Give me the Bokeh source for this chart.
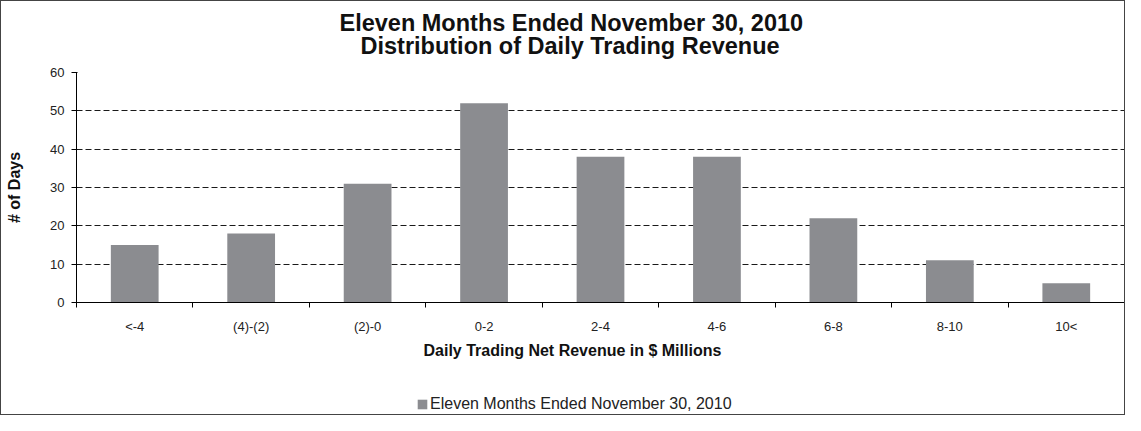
from bokeh.plotting import figure
from bokeh.layouts import column
from bokeh.models import (ColumnDataSource, FixedTicker, Title, Legend, LegendItem,
                          Range1d)
from bokeh.embed import file_html
from bokeh.resources import INLINE

# ---- data ----
categories = ["<-4", "(4)-(2)", "(2)-0", "0-2", "2-4", "4-6", "6-8", "8-10", "10<"]
days = [15, 18, 31, 52, 38, 38, 22, 11, 5]
series_name = "Eleven Months Ended November 30, 2010"
title_line1 = "Eleven Months Ended November 30, 2010"
title_line2 = "Distribution of Daily Trading Revenue"
x_label = "Daily Trading Net Revenue in $ Millions"
y_label = "# of Days"
y_ticks = [0, 10, 20, 30, 40, 50, 60]

FONT = "Liberation Sans"
BAR = "#8B8C90"
W = 1123
H_MAIN = 370
H_LEG = 43

xpos = list(range(1, len(categories) + 1))
src = ColumnDataSource(dict(x=xpos, days=days, cat=categories))

p = figure(width=W, height=H_MAIN, output_backend="svg", toolbar_location=None,
           x_range=Range1d(0.5, len(categories) + 0.5), y_range=Range1d(0, 60),
           min_border_left=75, min_border_right=0, min_border_top=71,
           min_border_bottom=69)
p.title = None
p.outline_line_color = None
p.background_fill_color = "white"
p.border_fill_color = "white"

bars = p.vbar(x="x", top="days", width=0.41, source=src, fill_color=BAR,
              line_color=None)

# grid
p.xgrid.grid_line_color = None
p.ygrid.grid_line_color = "#1a1a1a"
p.ygrid.grid_line_dash = "6 3"
p.ygrid.grid_line_width = 1
p.ygrid.level = "underlay"

# y axis
ya = p.yaxis[0]
ya.ticker = FixedTicker(ticks=y_ticks)
ya.axis_line_color = "black"
ya.major_tick_line_color = "black"
ya.major_tick_out = 5
ya.major_tick_in = 1
ya.minor_tick_line_color = None
ya.major_label_text_font = FONT
ya.major_label_text_font_size = "13px"
ya.major_label_text_color = "#222222"
ya.major_label_standoff = 7
ya.axis_label = y_label
ya.axis_label_text_font = FONT
ya.axis_label_text_font_size = "16px"
ya.axis_label_text_font_style = "bold"
ya.axis_label_text_color = "#111111"
ya.axis_label_standoff = 24

# x axis
xa = p.xaxis[0]
xa.ticker = FixedTicker(ticks=xpos, minor_ticks=[v - 0.5 for v in xpos] + [xpos[-1] + 0.5])
xa.major_label_overrides = {x: c for x, c in zip(xpos, categories)}
xa.axis_line_color = "black"
xa.major_tick_line_color = None
xa.minor_tick_line_color = "black"
xa.minor_tick_out = 5
xa.minor_tick_in = 0
xa.major_label_text_font = FONT
xa.major_label_text_font_size = "13px"
xa.major_label_text_color = "#222222"
xa.major_label_standoff = 10

# x-axis label as a title below, placed so it sits centred on the whole chart
xt = Title(text=x_label, align="left", offset=347, text_font=FONT,
           text_font_size="16px", text_font_style="bold", text_color="#111111",
           standoff=6)
p.add_layout(xt, "below")

# chart title (two lines)
t2 = Title(text=title_line2, align="left", offset=284, text_font=FONT,
           text_font_size="23.5px", text_font_style="bold", text_color="#111111",
           standoff=28)
t1 = Title(text=title_line1, align="left", offset=263, text_font=FONT,
           text_font_size="23.5px", text_font_style="bold", text_color="#111111",
           standoff=-39)
p.add_layout(t2, "above")
p.add_layout(t1, "above")

# ---- legend strip below the chart ----
lg = figure(width=W, height=H_LEG, output_backend="svg", toolbar_location=None,
            x_range=Range1d(-2, -1), y_range=Range1d(0, 1),
            x_axis_location=None, y_axis_location=None,
            min_border_left=0, min_border_right=0, min_border_top=0,
            min_border_bottom=0)
lg.title = None
lg.outline_line_color = None
lg.xgrid.grid_line_color = None
lg.ygrid.grid_line_color = None
# same series, drawn outside this strip's visible range: only its legend shows
swatch = lg.vbar(x="x", top="days", width=0.41, source=src,
                 fill_color=BAR, line_color=None)
legend = Legend(items=[LegendItem(label=series_name, renderers=[swatch])],
                location=(340, 1), orientation="horizontal",
                label_text_font=FONT, label_text_font_size="16px",
                label_text_color="#222222", glyph_width=12, glyph_height=12,
                label_standoff=2, padding=0, margin=0, spacing=0,
                border_line_color=None, background_fill_alpha=0)
lg.add_layout(legend, "center")

layout = column(p, lg, spacing=0)
layout.styles = {"border": "1px solid #444"}

open("out.html", "w").write(file_html(layout, INLINE))
